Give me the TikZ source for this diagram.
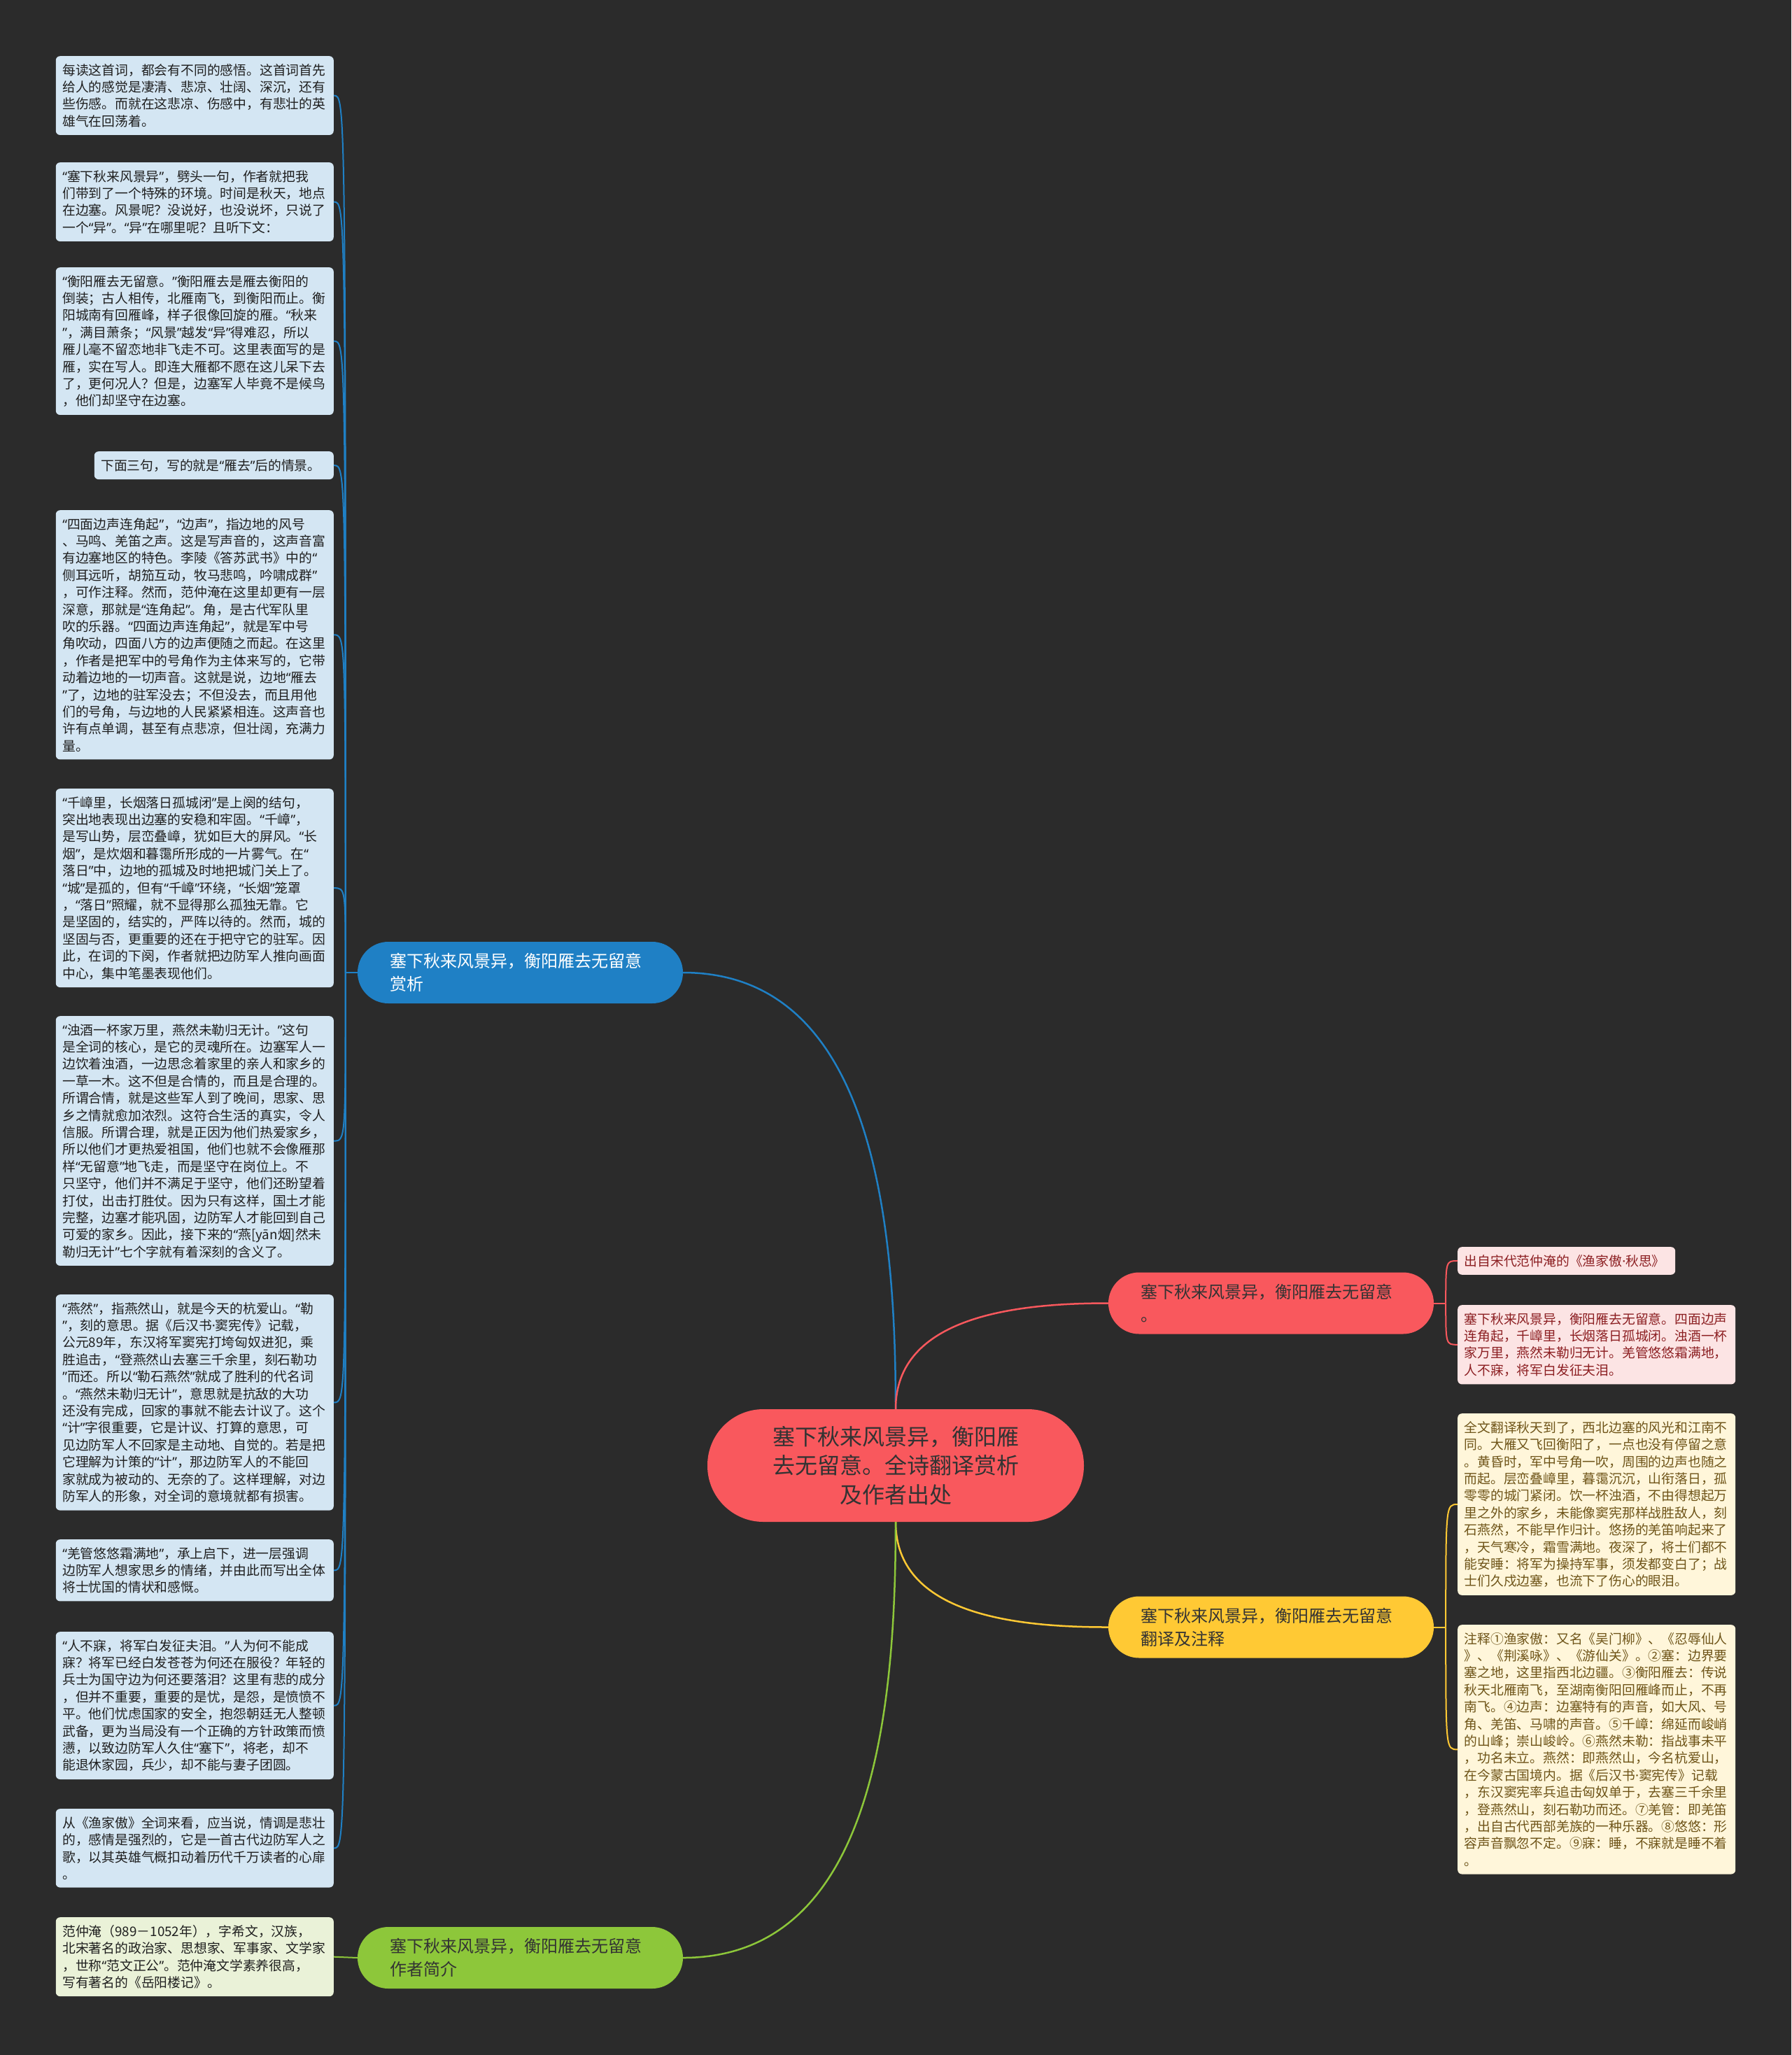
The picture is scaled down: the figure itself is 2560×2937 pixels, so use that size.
\documentclass[tikz,border=0pt]{standalone}
\usepackage{fontspec}
\newfontfamily\cjk{Noto Sans CJK SC}
\newfontfamily\quotefont{Noto Sans}
\newcommand\oq{{\quotefont “}}
\newcommand\cq{{\quotefont ”}}
\newcommand\mdot{{\quotefont ·}}

\definecolor{canvas}{HTML}{2B2B2B}
\definecolor{mapred}{HTML}{F9585D}
\definecolor{mapblue}{HTML}{1F80C5}
\definecolor{mapyellow}{HTML}{FFC934}
\definecolor{mapgreen}{HTML}{8DC73A}
\definecolor{inkdark}{HTML}{333333}
\definecolor{leafblue}{HTML}{D4E6F3}
\definecolor{leafgreen}{HTML}{EAF2D8}
\definecolor{leafpink}{HTML}{FCE4E4}
\definecolor{inkpink}{HTML}{8C1F22}
\definecolor{leafyellow}{HTML}{FFF6DA}
\definecolor{inkyellow}{HTML}{6E5418}

\begin{document}
\begin{tikzpicture}[
    x=1pt, y=-1pt,
    font=\cjk,
    hub/.style={rectangle, rounded corners=80pt, fill=mapred, text=inkdark,
        minimum width=538pt, minimum height=161pt, align=center, text width=360pt,
        font=\cjk\fontsize{32pt}{41.5pt}\selectfont},
    branch/.style={rectangle, rounded corners=44pt, text=inkdark,
        minimum width=465pt, minimum height=88pt, align=left, text width=372pt,
        font=\cjk\fontsize{24pt}{33pt}\selectfont},
    leaf/.style={rectangle, rounded corners=6pt, fill=leafblue, text=black!88,
        align=left, text width=378pt, inner xsep=9.5pt, inner ysep=11pt,
        font=\cjk\fontsize{18.8pt}{24.4pt}\selectfont},
    pinkleaf/.style={leaf, fill=leafpink, text=inkpink},
    yellowleaf/.style={leaf, fill=leafyellow, text=inkyellow},
    trunk/.style={line width=2.5pt},
    twig/.style={line width=2pt},
]

\path[use as bounding box, fill=canvas] (0,0) rectangle (2560,2937);

% ---- Centre and the four branches ----
\node[hub] (hub) at (1280,2094.5)
    {塞下秋来风景异，衡阳雁\\去无留意。全诗翻译赏析\\及作者出处};

\node[branch, fill=mapblue, text=white] (appr) at (743.5,1390)
    {塞下秋来风景异，衡阳雁去无留意\\赏析};
\node[branch, fill=mapred] (poem) at (1816.5,1862.5)
    {塞下秋来风景异，衡阳雁去无留意\\。};
\node[branch, fill=mapyellow] (trans) at (1816.5,2325.5)
    {塞下秋来风景异，衡阳雁去无留意\\翻译及注释};
\node[branch, fill=mapgreen] (author) at (743.5,2798)
    {塞下秋来风景异，衡阳雁去无留意\\作者简介};

% ---- Appreciation notes (left column) ----
\node[leaf, anchor=north east] (a1) at (477,80)
    {每读这首词，都会有不同的感悟。这首词首先\\
     给人的感觉是凄清、悲凉、壮阔、深沉，还有\\
     些伤感。而就在这悲凉、伤感中，有悲壮的英\\
     雄气在回荡着。};

\node[leaf, anchor=north east] (a2) at (477,232)
    {\oq 塞下秋来风景异\cq ，劈头一句，作者就把我\\
     们带到了一个特殊的环境。时间是秋天，地点\\
     在边塞。风景呢？没说好，也没说坏，只说了\\
     一个\oq 异\cq 。\oq 异\cq 在哪里呢？且听下文：};

\node[leaf, anchor=north east] (a3) at (477,382)
    {\oq 衡阳雁去无留意。\cq 衡阳雁去是雁去衡阳的\\
     倒装；古人相传，北雁南飞，到衡阳而止。衡\\
     阳城南有回雁峰，样子很像回旋的雁。\oq 秋来\\
     \cq ，满目萧条；\oq 风景\cq 越发\oq 异\cq 得难忍，所以\\
     雁儿毫不留恋地非飞走不可。这里表面写的是\\
     雁，实在写人。即连大雁都不愿在这儿呆下去\\
     了，更何况人？但是，边塞军人毕竟不是候鸟\\
     ，他们却坚守在边塞。};

\node[leaf, anchor=north east, text width=323pt] (a4) at (477,645)
    {下面三句，写的就是\oq 雁去\cq 后的情景。};

\node[leaf, anchor=north east] (a5) at (477,729)
    {\oq 四面边声连角起\cq ，\oq 边声\cq ，指边地的风号\\
     、马鸣、羌笛之声。这是写声音的，这声音富\\
     有边塞地区的特色。李陵《答苏武书》中的\oq\\
     侧耳远听，胡笳互动，牧马悲鸣，吟啸成群\cq\\
     ，可作注释。然而，范仲淹在这里却更有一层\\
     深意，那就是\oq 连角起\cq 。角，是古代军队里\\
     吹的乐器。\oq 四面边声连角起\cq ，就是军中号\\
     角吹动，四面八方的边声便随之而起。在这里\\
     ，作者是把军中的号角作为主体来写的，它带\\
     动着边地的一切声音。这就是说，边地\oq 雁去\\
     \cq 了，边地的驻军没去；不但没去，而且用他\\
     们的号角，与边地的人民紧紧相连。这声音也\\
     许有点单调，甚至有点悲凉，但壮阔，充满力\\
     量。};

\node[leaf, anchor=north east] (a6) at (477,1127)
    {\oq 千嶂里，长烟落日孤城闭\cq 是上阕的结句，\\
     突出地表现出边塞的安稳和牢固。\oq 千嶂\cq ，\\
     是写山势，层峦叠嶂，犹如巨大的屏风。\oq 长\\
     烟\cq ，是炊烟和暮霭所形成的一片雾气。在\oq\\
     落日\cq 中，边地的孤城及时地把城门关上了。\\
     \oq 城\cq 是孤的，但有\oq 千嶂\cq 环绕，\oq 长烟\cq 笼罩\\
     ，\oq 落日\cq 照耀，就不显得那么孤独无靠。它\\
     是坚固的，结实的，严阵以待的。然而，城的\\
     坚固与否，更重要的还在于把守它的驻军。因\\
     此，在词的下阕，作者就把边防军人推向画面\\
     中心，集中笔墨表现他们。};

\node[leaf, anchor=north east] (a7) at (477,1452)
    {\oq 浊酒一杯家万里，燕然未勒归无计。\cq 这句\\
     是全词的核心，是它的灵魂所在。边塞军人一\\
     边饮着浊酒，一边思念着家里的亲人和家乡的\\
     一草一木。这不但是合情的，而且是合理的。\\
     所谓合情，就是这些军人到了晚间，思家、思\\
     乡之情就愈加浓烈。这符合生活的真实，令人\\
     信服。所谓合理，就是正因为他们热爱家乡，\\
     所以他们才更热爱祖国，他们也就不会像雁那\\
     样\oq 无留意\cq 地飞走，而是坚守在岗位上。不\\
     只坚守，他们并不满足于坚守，他们还盼望着\\
     打仗，出击打胜仗。因为只有这样，国土才能\\
     完整，边塞才能巩固，边防军人才能回到自己\\
     可爱的家乡。因此，接下来的\oq 燕[yān烟]然未\\
     勒归无计\cq 七个字就有着深刻的含义了。};

\node[leaf, anchor=north east] (a8) at (477,1850)
    {\oq 燕然\cq ，指燕然山，就是今天的杭爱山。\oq 勒\\
     \cq ，刻的意思。据《后汉书\mdot 窦宪传》记载，\\
     公元89年，东汉将军窦宪打垮匈奴进犯，乘\\
     胜追击，\oq 登燕然山去塞三千余里，刻石勒功\\
     \cq 而还。所以\oq 勒石燕然\cq 就成了胜利的代名词\\
     。\oq 燕然未勒归无计\cq ，意思就是抗敌的大功\\
     还没有完成，回家的事就不能去计议了。这个\\
     \oq 计\cq 字很重要，它是计议、打算的意思，可\\
     见边防军人不回家是主动地、自觉的。若是把\\
     它理解为计策的\oq 计\cq ，那边防军人的不能回\\
     家就成为被动的、无奈的了。这样理解，对边\\
     防军人的形象，对全词的意境就都有损害。};

\node[leaf, anchor=north east] (a9) at (477,2200)
    {\oq 羌管悠悠霜满地\cq ，承上启下，进一层强调\\
     边防军人想家思乡的情绪，并由此而写出全体\\
     将士忧国的情状和感慨。};

\node[leaf, anchor=north east] (a10) at (477,2332)
    {\oq 人不寐，将军白发征夫泪。\cq 人为何不能成\\
     寐？将军已经白发苍苍为何还在服役？年轻的\\
     兵士为国守边为何还要落泪？这里有悲的成分\\
     ，但并不重要，重要的是忧，是怨，是愤愤不\\
     平。他们忧虑国家的安全，抱怨朝廷无人整顿\\
     武备，更为当局没有一个正确的方针政策而愤\\
     懑，以致边防军人久住\oq 塞下\cq ，将老，却不\\
     能退休家园，兵少，却不能与妻子团圆。};

\node[leaf, anchor=north east] (a11) at (477,2585)
    {从《渔家傲》全词来看，应当说，情调是悲壮\\
     的，感情是强烈的，它是一首古代边防军人之\\
     歌，以其英雄气概扣动着历代千万读者的心扉\\
     。};

% ---- Author note ----
\node[leaf, fill=leafgreen, anchor=north east] (g1) at (477,2740)
    {范仲淹（989－1052年），字希文，汉族，\\
     北宋著名的政治家、思想家、军事家、文学家\\
     ，世称\oq 范文正公\cq 。范仲淹文学素养很高，\\
     写有著名的《岳阳楼记》。};

% ---- Source and poem (right) ----
\node[pinkleaf, anchor=north west, text width=292pt] (p1) at (2083,1782)
    {出自宋代范仲淹的《渔家傲\mdot 秋思》};

\node[pinkleaf, anchor=north west] (p2) at (2083,1865)
    {塞下秋来风景异，衡阳雁去无留意。四面边声\\
     连角起，千嶂里，长烟落日孤城闭。浊酒一杯\\
     家万里，燕然未勒归无计。羌管悠悠霜满地，\\
     人不寐，将军白发征夫泪。};

% ---- Translation and notes (right) ----
\node[yellowleaf, anchor=north west] (t1) at (2083,2020)
    {全文翻译秋天到了，西北边塞的风光和江南不\\
     同。大雁又飞回衡阳了，一点也没有停留之意\\
     。黄昏时，军中号角一吹，周围的边声也随之\\
     而起。层峦叠嶂里，暮霭沉沉，山衔落日，孤\\
     零零的城门紧闭。饮一杯浊酒，不由得想起万\\
     里之外的家乡，未能像窦宪那样战胜敌人，刻\\
     石燕然，不能早作归计。悠扬的羌笛响起来了\\
     ，天气寒冷，霜雪满地。夜深了，将士们都不\\
     能安睡：将军为操持军事，须发都变白了；战\\
     士们久戍边塞，也流下了伤心的眼泪。};

\node[yellowleaf, anchor=north west] (t2) at (2083,2322)
    {注释①渔家傲：又名《吴门柳》、《忍辱仙人\\
     》、《荆溪咏》、《游仙关》。②塞：边界要\\
     塞之地，这里指西北边疆。③衡阳雁去：传说\\
     秋天北雁南飞，至湖南衡阳回雁峰而止，不再\\
     南飞。④边声：边塞特有的声音，如大风、号\\
     角、羌笛、马啸的声音。⑤千嶂：绵延而峻峭\\
     的山峰；崇山峻岭。⑥燕然未勒：指战事未平\\
     ，功名未立。燕然：即燕然山，今名杭爱山，\\
     在今蒙古国境内。据《后汉书\mdot 窦宪传》记载\\
     ，东汉窦宪率兵追击匈奴单于，去塞三千余里\\
     ，登燕然山，刻石勒功而还。⑦羌管：即羌笛\\
     ，出自古代西部羌族的一种乐器。⑧悠悠：形\\
     容声音飘忽不定。⑨寐：睡，不寐就是睡不着\\
     。};

% ---- Trunks from the centre ----
\draw[trunk, mapblue] (hub.north) to[out=90, in=0] (appr.east);
\draw[trunk, mapred] (hub.north) to[out=90, in=180] (poem.west);
\draw[trunk, mapyellow] (hub.south) to[out=-90, in=180] (trans.west);
\draw[trunk, mapgreen] (hub.south) to[out=-90, in=0] (author.east);

% ---- Twigs to the notes ----
\coordinate (aj) at ([xshift=-17pt]appr.west);
\draw[twig, mapblue] (appr.west) -- (aj);
\foreach \i in {1,...,11}
    \draw[twig, mapblue] (aj) .. controls (aj |- a\i.east) .. (a\i.east);

\coordinate (pj) at ([xshift=17pt]poem.east);
\draw[twig, mapred] (poem.east) -- (pj);
\foreach \i in {1,2}
    \draw[twig, mapred] (pj) .. controls (pj |- p\i.west) .. (p\i.west);

\coordinate (tj) at ([xshift=17pt]trans.east);
\draw[twig, mapyellow] (trans.east) -- (tj);
\foreach \i in {1,2}
    \draw[twig, mapyellow] (tj) .. controls (tj |- t\i.west) .. (t\i.west);

\draw[twig, mapgreen] (author.west) -- (g1.east);

\end{tikzpicture}
\end{document}
